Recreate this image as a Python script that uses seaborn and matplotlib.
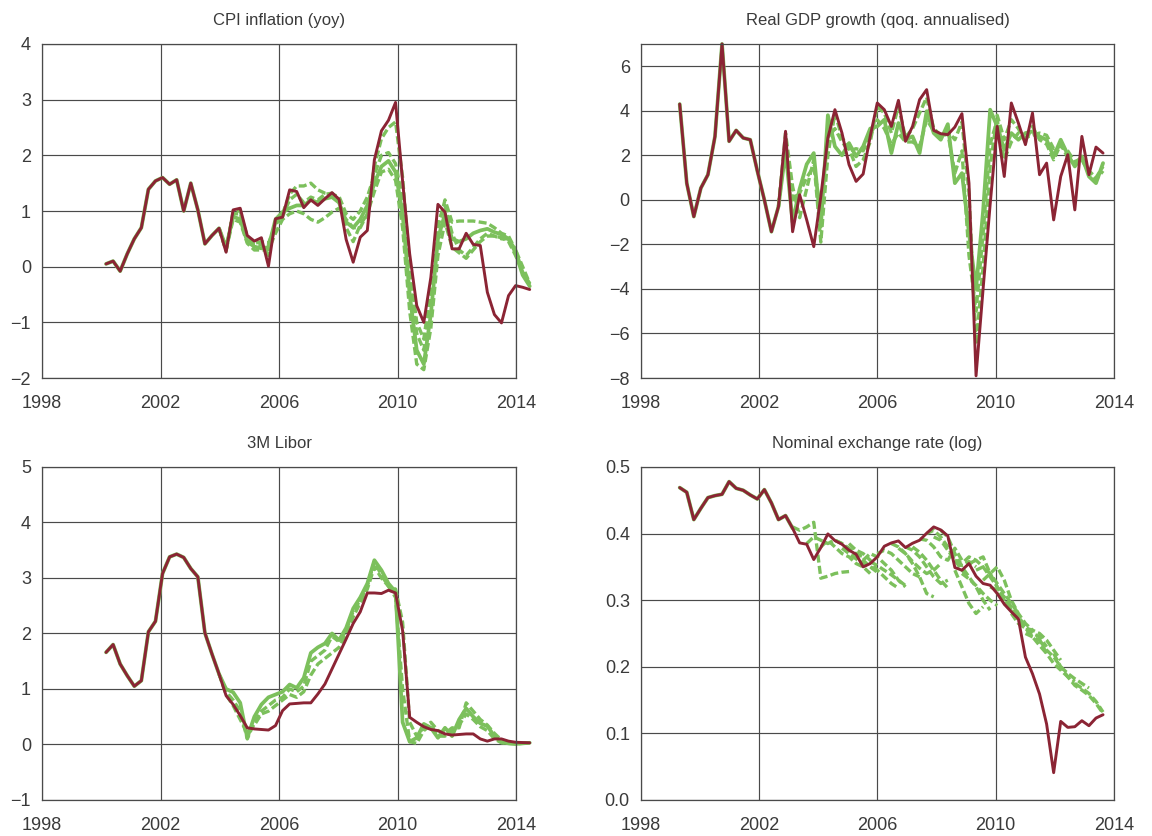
import numpy as np
import pandas as pd
import matplotlib
matplotlib.use("Agg")
import matplotlib.pyplot as plt
from matplotlib.ticker import FormatStrFormatter
import seaborn as sns

# ---------------------------------------------------------------------------
# Quarterly observation dates (decimal years)
# ---------------------------------------------------------------------------
left_dates = np.linspace(2000.16, 2014.46, 61)    # CPI and Libor
right_dates = np.linspace(1999.31, 2013.63, 61)   # GDP and exchange rate

# ---------------------------------------------------------------------------
# Outturns (final data)
# ---------------------------------------------------------------------------
cpi_actual = [0.05, 0.1, -0.08, 0.23, 0.5, 0.7, 1.39, 1.54, 1.6, 1.48, 1.56, 1.0,
              1.5, 1.02, 0.41, 0.56, 0.69, 0.26, 1.02, 1.05, 0.56, 0.46, 0.52, 0.01,
              0.86, 0.89, 1.38, 1.35, 1.06, 1.2, 1.1, 1.22, 1.33, 1.21, 0.49, 0.08,
              0.53, 0.65, 1.92, 2.44, 2.63, 2.95, 1.53, 0.23, -0.7, -1.0, -0.19, 1.12,
              0.98, 0.32, 0.32, 0.6, 0.4, 0.38, -0.46, -0.86, -1.01, -0.52, -0.34,
              -0.37, -0.41]

gdp_actual = [4.3, 0.75, -0.75, 0.53, 1.13, 2.85, 7.0, 2.63, 3.12, 2.78, 2.7, 1.3,
              0.0, -1.43, -0.3, 3.08, -1.43, 0.23, -0.9, -2.1, 0.15, 2.78, 4.05, 3.0,
              1.58, 0.83, 1.16, 2.85, 4.35, 4.05, 3.3, 4.47, 2.63, 3.3, 4.5, 4.95,
              3.12, 2.97, 2.93, 3.27, 3.87, 0.75, -7.9, -4.0, -0.2, 3.3, 1.05, 4.35,
              3.45, 2.48, 3.9, 1.13, 1.65, -0.9, 1.05, 2.03, -0.45, 2.85, 1.13, 2.37,
              2.1]

libor_actual = [1.66, 1.8, 1.45, 1.24, 1.05, 1.15, 2.03, 2.22, 3.08, 3.38, 3.43, 3.37,
                3.17, 3.02, 2.01, 1.63, 1.27, 0.88, 0.72, 0.52, 0.3, 0.28, 0.27, 0.26,
                0.34, 0.61, 0.73, 0.74, 0.75, 0.75, 0.91, 1.09, 1.36, 1.63, 1.9, 2.18,
                2.39, 2.73, 2.73, 2.72, 2.78, 2.73, 2.05, 0.49, 0.4, 0.32, 0.27, 0.25,
                0.19, 0.17, 0.18, 0.19, 0.19, 0.1, 0.06, 0.1, 0.1, 0.06, 0.04, 0.035,
                0.03]

fx_actual = [0.469, 0.462, 0.421, 0.438, 0.454, 0.457, 0.459, 0.478, 0.468, 0.465,
             0.458, 0.452, 0.466, 0.446, 0.421, 0.427, 0.408, 0.386, 0.384, 0.361,
             0.379, 0.3995, 0.3895, 0.384, 0.375, 0.369, 0.35, 0.355, 0.365, 0.381,
             0.386, 0.389, 0.379, 0.3855, 0.39, 0.4005, 0.41, 0.4055, 0.3965, 0.349,
             0.345, 0.355, 0.336, 0.325, 0.3225, 0.31, 0.294, 0.2825, 0.272, 0.2145,
             0.1895, 0.159, 0.114, 0.041, 0.118, 0.109, 0.11, 0.119, 0.1115, 0.123,
             0.128]

# ---------------------------------------------------------------------------
# Real-time model estimates (one list per vintage, starting at the given quarter)
# ---------------------------------------------------------------------------
CPI_VINTAGE_START = 17
cpi_vintage_a = [0.35, 0.9, 0.85, 0.45, 0.36, 0.33, 0.35, 0.85, 0.98, 1.05, 1.1, 1.1,
                 1.2, 1.15, 1.22, 1.25, 1.15, 0.8, 0.7, 0.85, 1.1, 1.5, 1.8, 1.9, 1.7,
                 0.95, -0.5, -1.5, -1.75, -0.85, 0.5, 0.95, 0.5, 0.45, 0.5, 0.6, 0.65,
                 0.68, 0.62, 0.58, 0.5, 0.25, -0.15, -0.35]
cpi_vintage_b = [0.3, 0.95, 0.95, 0.55, 0.42, 0.45, 0.42, 0.75, 0.95, 1.3, 1.45, 1.45,
                 1.5, 1.38, 1.32, 1.3, 1.26, 0.95, 0.85, 1.0, 1.25, 1.65, 2.0, 2.05,
                 1.85, 1.2, -0.2, -1.2, -1.5, -0.6, 0.7, 1.2, 0.8, 0.82, 0.82, 0.82,
                 0.8, 0.78, 0.7, 0.6, 0.55, 0.3, -0.1, -0.3]
cpi_vintage_c = [0.28, 1.0, 1.0, 0.5, 0.4, 0.4, 0.2, 0.8, 0.9, 1.2, 1.3, 1.15, 1.25,
                 1.2, 1.3, 1.32, 1.2, 0.7, 0.45, 0.75, 0.95, 1.8, 2.3, 2.5, 2.6, 1.6,
                 0.0, -1.0, -1.3, -0.4, 0.8, 1.1, 0.6, 0.3, 0.2, 0.35, 0.5, 0.6, 0.55,
                 0.5, 0.5, 0.3, 0.0, -0.3]
cpi_vintage_d = [0.3, 0.85, 0.8, 0.42, 0.3, 0.3, 0.3, 0.6, 0.85, 0.95, 1.0, 0.95, 0.85,
                 0.8, 0.88, 0.98, 1.05, 0.85, 0.7, 0.7, 0.95, 1.35, 1.7, 1.75, 1.55,
                 0.7, -0.8, -1.75, -1.85, -1.1, 0.2, 0.8, 0.35, 0.25, 0.15, 0.3, 0.45,
                 0.55, 0.55, 0.52, 0.45, 0.2, -0.1, -0.32]

GDP_VINTAGE_START = 15
gdp_vintage_a = [2.2, -1.0, 0.5, 1.6, 2.1, -1.2, 3.8, 2.4, 2.0, 2.55, 1.95, 2.4, 3.2,
                 3.3, 3.6, 2.1, 3.45, 2.7, 2.85, 2.1, 3.98, 3.0, 2.7, 3.4, 0.75, 1.2,
                 -1.5, -4.0, -0.5, 4.05, 3.3, 2.25, 3.0, 2.7, 3.0, 3.07, 2.85, 2.7,
                 1.95, 2.7, 2.03, 1.5, 1.95, 1.05, 0.75, 1.65]
gdp_vintage_b = [3.0, 0.6, -0.8, 0.5, 1.8, -1.9, 2.0, 3.9, 2.8, 2.3, 1.5, 1.8, 2.6,
                 4.2, 3.9, 3.0, 4.2, 2.8, 3.2, 3.9, 4.6, 3.2, 2.9, 3.1, 2.7, 3.5, 0.3,
                 -6.5, -3.0, 1.5, 3.8, 2.7, 3.6, 3.2, 2.6, 3.3, 2.7, 2.5, 1.8, 2.5,
                 1.9, 1.6, 1.8, 1.2, 0.9, 1.3]
gdp_vintage_c = [2.5, 0.0, 0.3, 1.0, 1.5, -0.5, 2.8, 3.2, 2.6, 2.2, 2.3, 2.2, 2.9,
                 3.6, 3.2, 2.5, 3.0, 2.6, 2.6, 2.4, 3.6, 3.1, 2.8, 3.0, 1.2, 2.2, -2.5,
                 -5.0, -1.5, 2.5, 3.6, 1.8, 2.6, 3.0, 2.8, 2.9, 3.0, 2.9, 2.3, 2.4,
                 2.2, 1.7, 1.9, 1.3, 1.0, 1.5]

LIBOR_VINTAGE_START = 17
libor_vintage_a = [1.0, 0.94, 0.75, 0.12, 0.5, 0.72, 0.85, 0.9, 0.95, 1.08, 1.02, 1.2,
                   1.65, 1.75, 1.82, 2.0, 1.88, 2.1, 2.45, 2.65, 2.9, 3.32, 3.14, 2.9,
                   2.75, 0.4, 0.05, 0.12, 0.37, 0.3, 0.12, 0.3, 0.15, 0.45, 0.65, 0.5,
                   0.38, 0.33, 0.15, 0.04, 0.02, 0.01, 0.02, 0.03]
libor_vintage_b = [0.9, 0.7, 0.45, 0.2, 0.35, 0.55, 0.6, 0.7, 0.8, 0.9, 0.85, 0.95,
                   1.25, 1.45, 1.55, 1.65, 1.75, 2.0, 2.3, 2.55, 2.8, 3.2, 3.0, 2.85,
                   2.8, 2.2, 0.4, 0.15, 0.3, 0.4, 0.25, 0.2, 0.3, 0.3, 0.75, 0.6, 0.45,
                   0.35, 0.2, 0.08, 0.03, 0.02, 0.02, 0.03]
libor_vintage_c = [0.95, 0.8, 0.6, 0.1, 0.4, 0.6, 0.7, 0.8, 0.85, 1.0, 0.95, 1.05,
                   1.5, 1.6, 1.7, 1.95, 1.85, 2.05, 2.4, 2.6, 2.85, 3.3, 3.05, 2.85,
                   2.65, 1.0, 0.05, 0.02, 0.25, 0.35, 0.15, 0.15, 0.25, 0.35, 0.55,
                   0.45, 0.32, 0.25, 0.1, 0.03, 0.02, 0.01, 0.02, 0.03]

# Exchange-rate vintages are short forecast paths: first quarter index, then values
fx_path_starts = [16, 18, 20, 22, 24, 26, 28, 30, 32, 34, 35, 37, 39, 39, 41, 43, 45,
                  47, 49, 51, 53, 56, 23, 27, 31, 33, 36, 40, 42, 44, 46]
fx_path_01 = [0.41, 0.405, 0.41, 0.417, 0.333, 0.336, 0.34, 0.342, 0.343]
fx_path_02 = [0.385, 0.395, 0.39, 0.385, 0.39, 0.385, 0.378, 0.37, 0.365]
fx_path_03 = [0.38, 0.39, 0.38, 0.37, 0.365, 0.355, 0.35, 0.34]
fx_path_04 = [0.39, 0.385, 0.375, 0.365, 0.36, 0.35, 0.345]
fx_path_05 = [0.385, 0.375, 0.37, 0.36, 0.345, 0.335, 0.325, 0.318]
fx_path_06 = [0.36, 0.37, 0.365, 0.355, 0.345, 0.33, 0.32]
fx_path_07 = [0.37, 0.375, 0.37, 0.36, 0.35, 0.34, 0.335]
fx_path_08 = [0.385, 0.38, 0.37, 0.355, 0.335, 0.31, 0.305]
fx_path_09 = [0.38, 0.375, 0.365, 0.35, 0.335, 0.325, 0.33]
fx_path_10 = [0.392, 0.39, 0.38, 0.365, 0.36, 0.378, 0.36]
fx_path_11 = [0.4, 0.405, 0.395, 0.38, 0.36, 0.345, 0.335]
fx_path_12 = [0.405, 0.395, 0.37, 0.35, 0.335, 0.32, 0.30, 0.285]
fx_path_13 = [0.36, 0.355, 0.365, 0.36, 0.35, 0.335, 0.32]
fx_path_14 = [0.345, 0.32, 0.295, 0.28, 0.29]
fx_path_15 = [0.355, 0.36, 0.365, 0.34, 0.32, 0.3, 0.285, 0.27]
fx_path_16 = [0.33, 0.34, 0.35, 0.33, 0.3, 0.28, 0.265, 0.255]
fx_path_17 = [0.31, 0.3, 0.285, 0.275, 0.26, 0.25, 0.245, 0.23]
fx_path_18 = [0.28, 0.265, 0.258, 0.255, 0.25, 0.24, 0.225, 0.21]
fx_path_19 = [0.25, 0.245, 0.24, 0.22, 0.205, 0.195, 0.185, 0.178]
fx_path_20 = [0.24, 0.225, 0.215, 0.2, 0.19, 0.182, 0.175, 0.168]
fx_path_21 = [0.22, 0.2, 0.185, 0.172, 0.165, 0.157, 0.145, 0.13]
fx_path_22 = [0.175, 0.168, 0.16, 0.148, 0.132]
fx_path_23 = [0.378, 0.37, 0.362, 0.355, 0.35, 0.342]
fx_path_24 = [0.358, 0.352, 0.345, 0.338, 0.33, 0.322]
fx_path_25 = [0.378, 0.37, 0.358, 0.348, 0.34, 0.345, 0.355]
fx_path_26 = [0.38, 0.372, 0.36, 0.345, 0.33, 0.318]
fx_path_27 = [0.395, 0.39, 0.375, 0.36, 0.352, 0.358, 0.35]
fx_path_28 = [0.34, 0.332, 0.322, 0.31, 0.3, 0.292]
fx_path_29 = [0.345, 0.35, 0.34, 0.325, 0.31, 0.295, 0.28]
fx_path_30 = [0.32, 0.315, 0.305, 0.29, 0.275, 0.26, 0.245]
fx_path_31 = [0.295, 0.285, 0.27, 0.258, 0.245, 0.232, 0.22]
fx_paths = [fx_path_01, fx_path_02, fx_path_03, fx_path_04, fx_path_05, fx_path_06,
            fx_path_07, fx_path_08, fx_path_09, fx_path_10, fx_path_11, fx_path_12,
            fx_path_13, fx_path_14, fx_path_15, fx_path_16, fx_path_17, fx_path_18,
            fx_path_19, fx_path_20, fx_path_21, fx_path_22, fx_path_23, fx_path_24,
            fx_path_25, fx_path_26, fx_path_27, fx_path_28, fx_path_29, fx_path_30,
            fx_path_31]

# ---------------------------------------------------------------------------
# Style
# ---------------------------------------------------------------------------
RED = "#8b2434"
GREEN = "#7cc05c"
GRID = "#4a4a4a"
TEXT = "#3a3a3a"
DASH = (0, (2.4, 1.0))

sns.set_theme(style="white")
plt.rcParams["font.family"] = ["Liberation Sans", "DejaVu Sans"]
plt.rcParams["axes.unicode_minus"] = True


def frame(dates, start, paths, names):
    rows = []
    for name, s, vals in zip(names, start, paths):
        for k, v in enumerate(vals):
            rows.append({"t": dates[s + k], "value": v, "vintage": name})
    return pd.DataFrame(rows)


def draw_panel(ax, dates, actual, vintage_start, vintages):
    # first vintage carries the full back history underneath the outturn line
    hist = list(actual[:vintage_start]) + list(vintages[0])
    sns.lineplot(x=dates[:len(hist)], y=hist, ax=ax, color=GREEN, lw=2.7,
                 estimator=None, sort=False, clip_on=False, legend=False)
    rest = vintages[1:]
    if rest:
        df = frame(dates, [vintage_start - 1] * len(rest),
                   [[actual[vintage_start - 1]] + list(v) for v in rest],
                   [f"v{i}" for i in range(len(rest))])
        sns.lineplot(data=df, x="t", y="value", units="vintage", estimator=None,
                     sort=False, ax=ax, color=GREEN, lw=2.4, linestyle=DASH,
                     clip_on=False, legend=False)


def draw_actual(ax, dates, actual):
    sns.lineplot(x=dates, y=actual, ax=ax, color=RED, lw=2.1, estimator=None,
                 sort=False, clip_on=False, legend=False)


def style_axes(ax, title, ylim, yticks, fmt=None):
    ax.set_xlim(1998, 2014)
    ax.set_xticks([1998, 2002, 2006, 2010, 2014])
    ax.set_ylim(*ylim)
    ax.set_yticks(yticks)
    if fmt:
        ax.yaxis.set_major_formatter(FormatStrFormatter(fmt))
    ax.grid(True, color=GRID, lw=0.85)
    ax.set_axisbelow(True)
    for sp in ax.spines.values():
        sp.set_visible(True)
        sp.set_color(GRID)
        sp.set_linewidth(0.9)
    ax.tick_params(axis="both", which="major", direction="out", length=5,
                   width=0.9, color=GRID, labelsize=13, labelcolor=TEXT)
    ax.tick_params(axis="x", pad=7)
    ax.tick_params(axis="y", pad=3)
    ax.set_title(title, fontsize=12, color=TEXT, pad=14)
    ax.set_xlabel("")
    ax.set_ylabel("")


fig = plt.figure(figsize=(11.52, 8.36), dpi=100)
ax_cpi = fig.add_axes([0.0365, 0.5478, 0.4115, 0.3996])
ax_gdp = fig.add_axes([0.5564, 0.5478, 0.4106, 0.3996])
ax_lib = fig.add_axes([0.0365, 0.0431, 0.4115, 0.3983])
ax_fx = fig.add_axes([0.5564, 0.0431, 0.4106, 0.3983])

# CPI inflation
draw_panel(ax_cpi, left_dates, cpi_actual, CPI_VINTAGE_START,
           [cpi_vintage_a, cpi_vintage_b, cpi_vintage_c, cpi_vintage_d])
draw_actual(ax_cpi, left_dates, cpi_actual)
style_axes(ax_cpi, "CPI inflation (yoy)", (-2, 4), range(-2, 5))

# Real GDP growth
draw_panel(ax_gdp, right_dates, gdp_actual, GDP_VINTAGE_START,
           [gdp_vintage_a, gdp_vintage_b, gdp_vintage_c])
draw_actual(ax_gdp, right_dates, gdp_actual)
style_axes(ax_gdp, "Real GDP growth (qoq. annualised)", (-8, 7), range(-8, 7, 2))

# 3M Libor
draw_panel(ax_lib, left_dates, libor_actual, LIBOR_VINTAGE_START,
           [libor_vintage_a, libor_vintage_b, libor_vintage_c])
draw_actual(ax_lib, left_dates, libor_actual)
style_axes(ax_lib, "3M Libor", (-1, 5), range(-1, 6))

# Nominal exchange rate: history plus short vintage paths
sns.lineplot(x=right_dates[:17], y=fx_actual[:17], ax=ax_fx, color=GREEN, lw=2.7,
             estimator=None, sort=False, clip_on=False, legend=False)
fx_df = frame(right_dates, fx_path_starts, fx_paths,
              [f"p{i}" for i in range(len(fx_paths))])
sns.lineplot(data=fx_df, x="t", y="value", units="vintage", estimator=None,
             sort=False, ax=ax_fx, color=GREEN, lw=2.4, linestyle=DASH,
             clip_on=False, legend=False)
draw_actual(ax_fx, right_dates, fx_actual)
style_axes(ax_fx, "Nominal exchange rate (log)", (0, 0.5),
           [0.0, 0.1, 0.2, 0.3, 0.4, 0.5], fmt="%.1f")

fig.savefig("out.png", dpi=100)
